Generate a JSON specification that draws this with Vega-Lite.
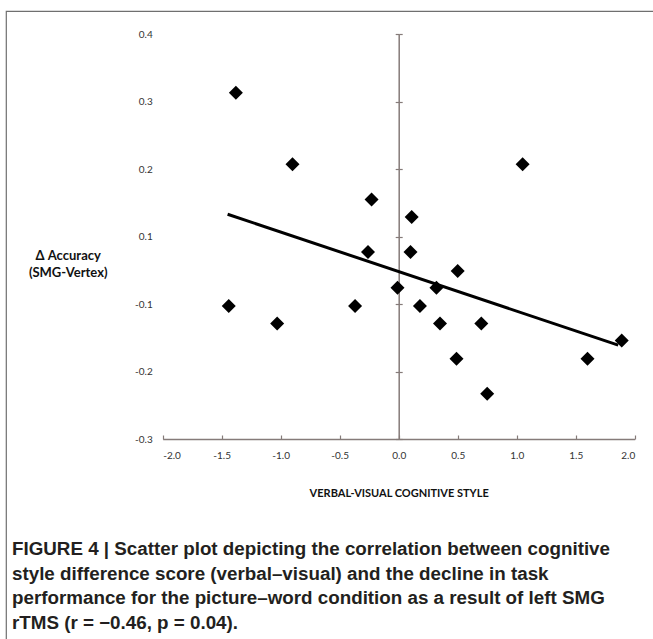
{
  "$schema": "https://vega.github.io/schema/vega-lite/v6.json",
  "autosize": "none",
  "padding": {"left": 6, "top": 11, "right": 0, "bottom": 0},
  "width": 660,
  "height": 640,
  "background": "white",
  "config": {
    "locale": {"number": {"decimal": ".", "thousands": ",", "grouping": [3], "currency": ["$", ""], "minus": "-"}},
    "view": {"stroke": "#6f6f6f", "strokeWidth": 1.2},
    "axis": {"grid": false, "labelFont": "Lato", "titleFont": "Lato", "labelColor": "#333333", "titleColor": "#111111"}
  },
  "title": {
    "text": [
      "FIGURE 4 | Scatter plot depicting the correlation between cognitive",
      "style difference score (verbal–visual) and the decline in task",
      "performance for the picture–word condition as a result of left SMG",
      "rTMS (r = −0.46, p = 0.04)."
    ],
    "orient": "bottom",
    "anchor": "start",
    "frame": "group",
    "offset": 0,
    "dx": 6,
    "dy": -111,
    "baseline": "top",
    "font": "Liberation Sans",
    "fontSize": 18.8,
    "fontWeight": "bold",
    "lineHeight": 24.5,
    "color": "#231f20"
  },
  "datasets": {
    "points": [
      {"x": -1.38, "y": 0.313},
      {"x": -0.90, "y": 0.207},
      {"x": -0.23, "y": 0.155},
      {"x": 0.11, "y": 0.129},
      {"x": 1.05, "y": 0.207},
      {"x": -0.26, "y": 0.077},
      {"x": 0.10, "y": 0.077},
      {"x": -0.01, "y": 0.024},
      {"x": -1.44, "y": -0.003},
      {"x": -0.37, "y": -0.003},
      {"x": -1.03, "y": -0.029},
      {"x": 0.50, "y": 0.049},
      {"x": 0.32, "y": 0.024},
      {"x": 0.18, "y": -0.003},
      {"x": 0.35, "y": -0.029},
      {"x": 0.70, "y": -0.029},
      {"x": 0.49, "y": -0.081},
      {"x": 1.60, "y": -0.081},
      {"x": 1.89, "y": -0.054},
      {"x": 0.75, "y": -0.133}
    ],
    "fit": [
      {"x": -1.45, "y": 0.133},
      {"x": 1.86, "y": -0.061}
    ]
  },
  "layer": [
    {
      "data": {"name": "points"},
      "mark": {"type": "point", "shape": "diamond", "filled": true, "color": "#000000", "opacity": 1, "size": 196},
      "encoding": {
        "x": {
          "field": "x", "type": "quantitative",
          "scale": {"domain": [-2, 2], "range": [156.7, 628.7], "nice": false, "zero": false},
          "axis": {
            "orient": "bottom", "offset": -212,
            "values": [-2, -1.5, -1, -0.5, 0, 0.5, 1, 1.5, 2],
            "format": ".1f",
            "domainColor": "#857b79", "domainWidth": 1.5,
            "tickColor": "#857b79", "tickWidth": 1.2, "tickSize": -4,
            "labelPadding": 15, "labelFontSize": 10,
            "title": "VERBAL-VISUAL COGNITIVE STYLE",
            "titleFontSize": 11, "titleFontWeight": "bold",
            "titleBaseline": "middle", "titleY": 54
          }
        },
        "y": {
          "field": "y", "type": "quantitative",
          "scale": {"domain": [-0.2, 0.4], "range": [428, 23], "nice": false, "zero": false},
          "axis": {
            "orient": "left", "offset": -392.7,
            "values": [-0.2, -0.1, 0, 0.1, 0.2, 0.3, 0.4],
            "labelExpr": "datum.value < 0.0001 ? format(datum.value - 0.1, '.1f') : format(datum.value, '.1f')",
            "domainColor": "#857b79", "domainWidth": 1.5,
            "tickColor": "#857b79", "tickWidth": 1.2, "tickSize": 3.5,
            "labelPadding": 243, "labelFontSize": 10, "labelBaseline": "middle",
            "title": ["Δ Accuracy", "(SMG-Vertex)"],
            "titleAngle": 0, "titleAlign": "center", "titleBaseline": "top",
            "titleX": -331, "titleY": 238,
            "titleFontSize": 13, "titleFontWeight": "bold", "titleLineHeight": 17
          }
        }
      }
    },
    {
      "data": {"name": "fit"},
      "mark": {"type": "line", "color": "#000000", "strokeWidth": 3},
      "encoding": {
        "x": {"field": "x", "type": "quantitative"},
        "y": {
          "field": "y", "type": "quantitative",
          "axis": {
            "orient": "right", "offset": -267.3,
            "values": [-0.2, -0.1, 0, 0.1, 0.2, 0.3, 0.4],
            "labels": false, "domain": false, "title": null,
            "tickColor": "#857b79", "tickWidth": 1.2, "tickSize": 3.5
          }
        }
      }
    }
  ],
  "resolve": {"axis": {"y": "independent"}}
}
